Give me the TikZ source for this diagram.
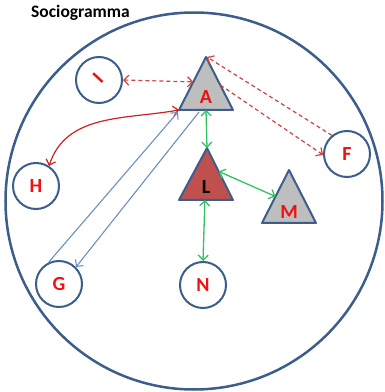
\documentclass[tikz,border=0pt]{standalone}
\usepackage{fontspec}
\setmainfont{Carlito}
\usetikzlibrary{arrows.meta,calc}
\definecolor{ringblue}{HTML}{3B5E8C}
\definecolor{lblred}{HTML}{EE1111}
\definecolor{dashred}{HTML}{D04040}
\definecolor{curvered}{HTML}{CC2222}
\definecolor{lineblue}{HTML}{6A8FC0}
\definecolor{linkgreen}{HTML}{33C060}
\definecolor{trigray}{HTML}{BEBEBE}
\definecolor{trired}{HTML}{C0504D}
\tikzset{
  person/.style={circle, draw=ringblue, line width=2pt, minimum size=46pt, inner sep=0pt, text=lblred, font=\fontsize{20}{20}\selectfont\bfseries},
  tri/.style={draw=ringblue, line width=2pt, line join=round},
  trilabel/.style={text=lblred, font=\fontsize{20}{20}\selectfont\bfseries, inner sep=0pt},
  barb/.style={{Straight Barb[length=5pt,width=10pt]}-{Straight Barb[length=5pt,width=10pt]}},
  onebarb/.style={-{Straight Barb[length=5pt,width=10pt]}},
  reddash/.style={draw=dashred, line width=1.2pt, dash pattern=on 4pt off 3pt},
  blueline/.style={draw=lineblue, line width=1.1pt},
  greenline/.style={draw=linkgreen, line width=1.3pt},
  redcurve/.style={draw=curvered, line width=1.2pt}
}
\begin{document}
\begin{tikzpicture}[x=1pt,y=1pt]
\useasboundingbox (0,0) rectangle (385,392);
% outer ring
\draw[ringblue, line width=2.5pt] (194,191) circle (188.5);
\node[anchor=base west, inner sep=0pt, font=\fontsize{17.5}{17.5}\selectfont\bfseries] (title) at (31,374) {Sociogramma};
% circles
\node[person] (I) at (99,312) {};
\node[text=lblred, font=\fontsize{20}{20}\selectfont\bfseries, rotate=47, inner sep=0pt] (Ilbl) at (98,314) {I};
\node[person] (F) at (347,238) {F};
\node[person] (H) at (36,206) {H};
\node[person] (G) at (59,108) {G};
\node[person] (N) at (203,107) {N};
% triangles
\coordinate (A-top) at (206,335);
\coordinate (A-left) at (179,282);
\coordinate (A-right) at (233,282);
\filldraw[tri, fill=trigray] (A-top) -- (A-right) -- (A-left) -- cycle;
\node[trilabel] (A) at (206,295) {A};
\coordinate (L-top) at (207,244);
\coordinate (L-left) at (179,192);
\coordinate (L-right) at (233,192);
\filldraw[tri, fill=trired] (L-top) -- (L-right) -- (L-left) -- cycle;
\node[trilabel, text=black] (L) at (206,205) {L};
\coordinate (M-top) at (289,222);
\coordinate (M-left) at (262,169);
\coordinate (M-right) at (316,169);
\filldraw[tri, fill=trigray] (M-top) -- (M-right) -- (M-left) -- cycle;
\node[trilabel] (M) at (289,180) {M};
% red dashed
\coordinate (A-w) at ($(A-top)!0.47!(A-left)$);
\draw[reddash, barb] (I.east) -- (A-w);
\draw[reddash, onebarb] (F.129) -- ($(A-top)+(1,0)$);
\coordinate (A-e) at ($(A-top)!0.53!(A-right)$);
\draw[reddash, onebarb] (A-e) -- (F.182);
% red curve
\draw[redcurve, barb] (A-left) to[out=190,in=72] (H.57);
% blue lines
\coordinate (A-b) at (199,280);
\draw[blueline, onebarb] (G.116) -- ($(A-left)+(-1,-2)$);
\draw[blueline, onebarb] (A-b) -- (G.45);
% green
\draw[greenline, barb] ($(A-left)!0.5!(A-right)$) -- (L-top);
\draw[greenline, barb] ($(L-top)!0.45!(L-right)$) -- ($(M-top)!0.5!(M-left)$);
\draw[greenline, barb] ($(L-left)!0.48!(L-right)$) -- (N.north);
\end{tikzpicture}
\end{document}
